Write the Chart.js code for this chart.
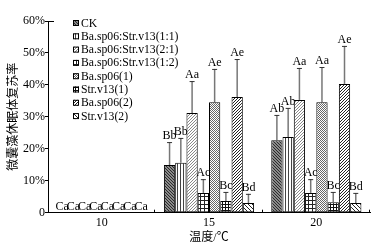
<!DOCTYPE html>
<html>
<head>
<meta charset="utf-8">
<script src="https://cdn.jsdelivr.net/npm/chart.js@4.4.1/dist/chart.umd.min.js"></script>
<style>
  html, body { margin: 0; padding: 0; background: #fff; }
  canvas { display: block; }
</style>
</head>
<body>
<canvas id="c" width="392" height="251"></canvas>
<script>
const temps = ["10", "15", "20"];
const seriesNames = [
  "CK",
  "Ba.sp06:Str.v13(1:1)",
  "Ba.sp06:Str.v13(2:1)",
  "Ba.sp06:Str.v13(1:2)",
  "Ba.sp06(1)",
  "Str.v13(1)",
  "Ba.sp06(2)",
  "Str.v13(2)"
];
// recovery rate (%)
const ck       = [0, 14.9, 22.7];
const mix11    = [0, 15.6, 23.7];
const mix21    = [0, 31.2, 35.3];
const mix12    = [0, 6.2, 6.2];
const ba1      = [0, 34.6, 34.6];
const str1     = [0, 3.7, 3.3];
const ba2      = [0, 36.2, 40.3];
const str2     = [0, 3.0, 3.0];
// upper error (%)
const ckErr    = [0, 7.2, 7.9];
const mix11Err = [0, 7.8, 9.1];
const mix21Err = [0, 10.0, 10.0];
const mix12Err = [0, 4.3, 4.3];
const ba1Err   = [0, 10.4, 11.0];
const str1Err  = [0, 2.8, 3.2];
const ba2Err   = [0, 11.9, 11.9];
const str2Err  = [0, 2.9, 3.2];
// significance letters
const ckTag    = ["Ca", "Bb", "Ab"];
const mix11Tag = ["Ca", "Bb", "Ab"];
const mix21Tag = ["Ca", "Aa", "Aa"];
const mix12Tag = ["Ca", "Ac", "Ac"];
const ba1Tag   = ["Ca", "Ae", "Aa"];
const str1Tag  = ["Ca", "Bc", "Bc"];
const ba2Tag   = ["Ca", "Ae", "Ae"];
const str2Tag  = ["Ca", "Bd", "Bd"];
const yTicks = [0, 10, 20, 30, 40, 50, 60];

const values = [ck, mix11, mix21, mix12, ba1, str1, ba2, str2];
const errors = [ckErr, mix11Err, mix21Err, mix12Err, ba1Err, str1Err, ba2Err, str2Err];
const tags = [ckTag, mix11Tag, mix21Tag, mix12Tag, ba1Tag, str1Tag, ba2Tag, str2Tag];

const FONT = "'Liberation Serif', 'Times New Roman', 'Noto Sans CJK SC', serif";

function pat(size, bg, draw) {
  const c = document.createElement("canvas");
  c.width = size; c.height = size;
  const g = c.getContext("2d");
  g.fillStyle = bg;
  g.fillRect(0, 0, size, size);
  draw(g);
  return document.getElementById("c").getContext("2d").createPattern(c, "repeat");
}
const px = (g, col, pts) => { g.fillStyle = col; pts.forEach(p => g.fillRect(p[0], p[1], 1, 1)); };

const fills = [
  // CK: dark grey back-diagonal
  pat(3, "#8a8a8a", g => px(g, "#2a2a2a", [[0, 0], [1, 1], [2, 2]])),
  // 1:1 vertical stripes
  pat(3, "#fff", g => px(g, "#444", [[0, 0], [0, 1], [0, 2]])),
  // 2:1 light speckle
  pat(3, "#fff", g => px(g, "#8a8a8a", [[0, 0], [1, 2], [2, 1]])),
  // 1:2 open grid
  pat(4, "#fff", g => px(g, "#222", [[0, 0], [1, 0], [2, 0], [3, 0], [0, 1], [0, 2], [0, 3]])),
  // Ba.sp06(1) medium checker
  pat(2, "#fff", g => px(g, "#666", [[0, 0], [1, 1]])),
  // Str.v13(1) dense dark grid
  pat(3, "#fff", g => px(g, "#111", [[0, 0], [1, 0], [2, 0], [0, 1], [0, 2]])),
  // Ba.sp06(2) forward diagonal
  pat(3, "#fff", g => px(g, "#222", [[2, 0], [1, 1], [0, 2]])),
  // Str.v13(2) back diagonal
  pat(4, "#fff", g => px(g, "#222", [[0, 0], [1, 1], [2, 2], [3, 3]]))
];

const datasets = seriesNames.map((name, i) => ({
  label: name,
  data: values[i],
  backgroundColor: fills[i],
  borderColor: "#000",
  borderWidth: 1,
  borderSkipped: false,
  categoryPercentage: 0.84,
  barPercentage: 1.0
}));

const marks = {
  id: "marks",
  beforeDatasetsDraw(chart) {
    const ctx = chart.ctx, y = chart.scales.y;
    ctx.save();
    chart.data.datasets.forEach((ds, i) => {
      chart.getDatasetMeta(i).data.forEach((bar, j) => {
        const e = errors[i][j];
        const top = y.getPixelForValue(values[i][j] + e);
        if (e > 0) {
          ctx.strokeStyle = "#777";
          ctx.lineWidth = 1.5;
          ctx.beginPath();
          ctx.moveTo(bar.x, bar.y);
          ctx.lineTo(bar.x, top);
          ctx.stroke();
          ctx.strokeStyle = "#333";
          ctx.lineWidth = 1;
          ctx.beginPath();
          ctx.moveTo(bar.x - 2.5, top + 0.5);
          ctx.lineTo(bar.x + 2.5, top + 0.5);
          ctx.stroke();
        }
        ctx.fillStyle = "#000";
        ctx.font = "12px " + FONT;
        ctx.textAlign = "center";
        ctx.textBaseline = "alphabetic";
        ctx.fillText(tags[i][j], bar.x, top - 3);
      });
    });
    ctx.restore();
  },
  afterDraw(chart) {
    const ctx = chart.ctx, a = chart.chartArea;
    ctx.save();
    ctx.strokeStyle = "#000";
    ctx.lineWidth = 1;
    // inward ticks between temperature groups
    const w = (a.right - a.left) / temps.length;
    for (let k = 1; k <= temps.length; k++) {
      const xx = Math.round(a.left + k * w) - 0.5;
      ctx.beginPath();
      ctx.moveTo(xx, a.bottom);
      ctx.lineTo(xx, a.bottom - 3);
      ctx.stroke();
    }
    // top end cap of y axis
    ctx.beginPath();
    ctx.moveTo(a.left, Math.round(a.top) + 0.5);
    ctx.lineTo(a.left + 6, Math.round(a.top) + 0.5);
    ctx.stroke();
    // legend
    ctx.font = "11.7px " + FONT;
    ctx.textAlign = "left";
    ctx.textBaseline = "middle";
    seriesNames.forEach((name, i) => {
      const yy = 23 + i * 13.3;
      ctx.fillStyle = fills[i];
      ctx.fillRect(73, yy - 3, 6, 6);
      ctx.strokeRect(73.5, yy - 2.5, 5, 5);
      ctx.fillStyle = "#000";
      ctx.fillText(name, 81, yy + 0.5);
    });
    ctx.restore();
  }
};

new Chart(document.getElementById("c"), {
  type: "bar",
  data: { labels: temps, datasets: datasets },
  plugins: [marks],
  options: {
    responsive: false,
    animation: false,
    devicePixelRatio: 1,
    layout: { padding: { top: 21, right: 22, left: 0, bottom: 0 } },
    plugins: { legend: { display: false }, tooltip: { enabled: false } },
    scales: {
      x: {
        ticks: { color: "#000", font: { family: FONT, size: 12 }, padding: 3 },
        grid: { display: false, drawTicks: false },
        border: { color: "#000", width: 1 },
        title: {
          display: true, text: "温度/℃", color: "#000",
          font: { family: FONT, size: 12 }, padding: { top: 0, bottom: 6 }
        },
        afterFit(s) { s.height = 38.3; }
      },
      y: {
        min: 0, max: 60,
        afterBuildTicks(s) { s.ticks = yTicks.map(v => ({ value: v })); },
        ticks: {
          color: "#000", font: { family: FONT, size: 12 }, padding: 0,
          callback: v => v === 0 ? "0" : v + "%"
        },
        grid: { drawOnChartArea: false, drawTicks: true, tickLength: 3, color: "#000" },
        border: { color: "#000", width: 1 },
        title: {
          display: true, text: "微囊藻休眠体复苏率", color: "#000",
          font: { family: FONT, size: 12 }, padding: { top: 7, bottom: 0 }
        },
        afterFit(s) { s.width = 48; }
      }
    }
  }
});
</script>
</body>
</html>
